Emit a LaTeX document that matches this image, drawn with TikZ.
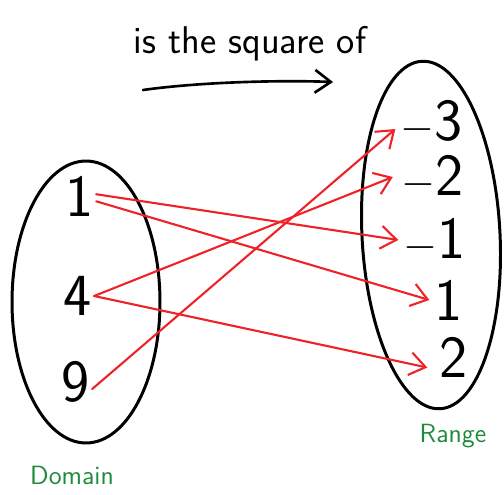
\documentclass[tikz,border=0pt]{standalone}
\usepackage{xcolor}
\usetikzlibrary{arrows.meta,positioning,shapes.geometric}
\definecolor{mapred}{HTML}{EE2228}
\definecolor{setgreen}{HTML}{1E8A3C}

\begin{document}
\begin{tikzpicture}[
  x=0.02cm, y=-0.02cm,
  num/.style={font=\sffamily\fontsize{34}{36}\selectfont, inner sep=1pt},
  blob/.style={draw, ellipse, line width=1.7pt, inner sep=0pt},
  setname/.style={font=\sffamily\fontsize{15}{17}\selectfont, text=setgreen},
  maps/.style={draw=mapred, line width=1.2pt, line cap=round,
    -{Straight Barb[length=9pt,width=13pt,line width=1.2pt]}}]
\useasboundingbox (0,0) rectangle (504,494);
% the two sets
\node[blob, minimum width=2.96cm, minimum height=5.64cm] (domain) at (86,302) {};
\node[blob, minimum width=2.76cm, minimum height=6.96cm, rotate=3] (range) at (431,235) {};
\node[setname] (domlab) at (72,475) {Domain};
\node[setname] (ranlab) at (453,436) {Range};
% elements
\node[num] (d1) at (80,196) {1};
\node[num] (d4) at (78,296) {4};
\node[num] (d9) at (76,382) {9};
\node[num] (rm3) at (432,122) {$-$3};
\node[num] (rm2) at (433,177) {$-$2};
\node[num] (rm1) at (435,240) {$-$1};
\node[num] (r1) at (449,300) {1};
\node[num] (r2) at (454,357) {2};
% the relation
\draw[maps] ([yshift=1pt]d1.east) -- ([xshift=-2pt]rm1.west);
\draw[maps] ([yshift=-3pt]d1.east) -- ([xshift=-2pt]r1.west);
\draw[maps] (d4.east) -- ([xshift=-4pt]rm2.west);
\draw[maps] (d4.east) -- ([xshift=-6pt,yshift=-6pt]r2.west);
\draw[maps] ([yshift=-4pt]d9.east) -- ([xshift=-2pt,yshift=-4pt]rm3.west);
% title
\node[font=\sffamily\fontsize{22}{24}\selectfont] (title) at (250,44) {is the square of};
\coordinate (tl) at (143,90);
\coordinate (tr) at (333,82);
\draw[line width=1.5pt, line cap=round, -{Straight Barb[length=9pt,width=13pt,line width=1.5pt]}]
  (tl) .. controls (200,82) and (280,80) .. (tr);
\end{tikzpicture}
\end{document}
